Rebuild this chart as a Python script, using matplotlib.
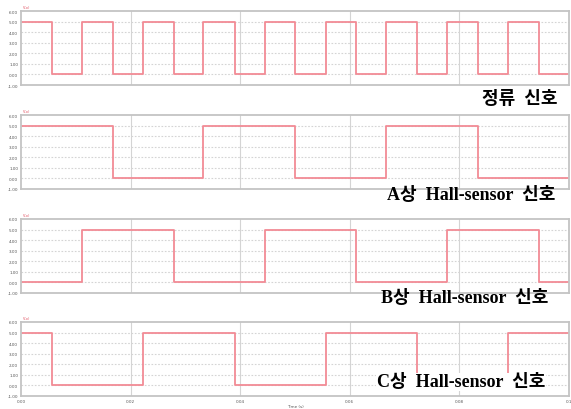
import matplotlib
matplotlib.use("Agg")
import matplotlib.pyplot as plt

# 각 신호: 시작 레벨과 전환 시점(초)
t_end = 0.1
high = 5.0

comm_start = 5.0
comm_edges = [0.0056, 0.0111, 0.0167, 0.0222, 0.0279, 0.0333, 0.0391, 0.0445, 0.0500,
              0.0556, 0.0611, 0.0666, 0.0722, 0.0777, 0.0834, 0.0889, 0.0945]

a_start = 5.0
a_edges = [0.0167, 0.0333, 0.0500, 0.0666, 0.0834]

b_start = 0.0
b_edges = [0.0111, 0.0279, 0.0445, 0.0611, 0.0777, 0.0945]

c_start = 5.0
c_edges = [0.0056, 0.0222, 0.0391, 0.0556, 0.0722, 0.0889]

titles = ["정류  신호", "A상  Hall-sensor  신호", "B상  Hall-sensor  신호", "C상  Hall-sensor  신호"]
y_ticks = [-1, 0, 1, 2, 3, 4, 5, 6]
y_labels = ["-1.00", "0.00", "1.00", "2.00", "3.00", "4.00", "5.00", "6.00"]
x_ticks = [0.0, 0.02, 0.04, 0.06, 0.08, 0.1]
x_labels = ["0.00", "0.02", "0.04", "0.06", "0.08", "0.1"]


def square(start, edges):
    t = [0.0]
    v = [start]
    level = start
    for e in edges:
        level = high - level
        t.append(e)
        v.append(level)
    t.append(t_end)
    v.append(level)
    return t, v


signals = [(comm_start, comm_edges), (a_start, a_edges), (b_start, b_edges), (c_start, c_edges)]

W, H = 571, 410
fig = plt.figure(figsize=(W / 100, H / 100), dpi=100)
fig.patch.set_facecolor("white")

tops = [12, 116, 220, 323]
label_y = [100, 196, 299, 383]
label_x = [558, 555, 548, 545]
line_col = "#f28b95"
grid_col = "#d4d4d4"

for i, (start, edges) in enumerate(signals):
    ax = fig.add_axes([21 / W, 1 - (tops[i] + 74) / H, 548 / W, 74 / H])
    t, v = square(start, edges)
    ax.plot(t, v, drawstyle="steps-post", color=line_col, lw=1.3)
    ax.set_xlim(0, t_end)
    ax.set_ylim(-1, 6)
    for y in range(0, 6):
        ax.axhline(y, color=grid_col, lw=0.8, ls=(0, (1.5, 1.5)), zorder=0)
    for x in x_ticks[1:-1]:
        ax.axvline(x, color=grid_col, lw=0.8, zorder=0)
    for s in ax.spines.values():
        s.set_color("#c4c4c4")
        s.set_linewidth(1.3)
    ax.set_yticks(y_ticks)
    ax.set_yticklabels(y_labels)
    ax.tick_params(axis="both", length=0, labelsize=3, labelcolor="#555555", pad=2)
    ax.set_xticks(x_ticks)
    if i == 3:
        ax.set_xticklabels(x_labels)
        ax.set_xlabel("Time (s)", fontsize=3, color="#555555", labelpad=1)
    else:
        ax.set_xticklabels([])
    ax.text(0.003, 1.04, "V(o)", transform=ax.transAxes, fontsize=2.5, color="#e05060")

    fig.text(label_x[i] / W, 1 - label_y[i] / H, titles[i], ha="right", va="center",
             fontsize=13, fontweight="bold", family=["Liberation Serif", "Noto Sans CJK KR"],
             bbox=dict(facecolor="white", edgecolor="none", pad=0.5) if i == 3 else None)

fig.savefig("out.png", dpi=100, facecolor="white")
